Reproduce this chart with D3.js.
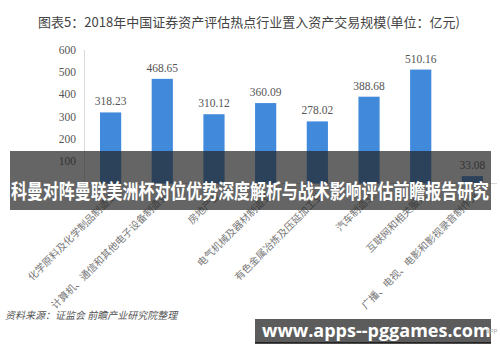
<!DOCTYPE html>
<html>
<head>
<meta charset="utf-8">
<script src="https://cdn.jsdelivr.net/npm/d3@7"></script>
<style>
  body { margin: 0; background: #fff; }
  svg { display: block; }
</style>
</head>
<body>
<div id="chart"></div>
<script>
const categories = [
  '化学原料及化学制品制造业',
  '计算机、通信和其他电子设备制造业',
  '房地产业',
  '电气机械及器材制造业',
  '有色金属冶炼及压延加工业',
  '汽车制造业',
  '互联网和相关服务',
  '广播、电视、电影和影视录音制作业'
]
const values = [318.23, 468.65, 310.12, 360.09, 278.02, 388.68, 510.16, 33.08]
const yTicks = [100, 200, 300, 400, 500, 600]

const title = '图表5：2018年中国证券资产评估热点行业置入资产交易规模(单位：亿元)'
const source = '资料来源：证监会 前瞻产业研究院整理'
const banner = '科曼对阵曼联美洲杯对位优势深度解析与战术影响评估前瞻报告研究'
const site = 'www.apps--pggames.com'

const width = 500
const height = 362
const serif = '"Liberation Serif", "DejaVu Serif", serif'
const cjk = '"Noto Sans CJK SC", "Noto Sans", sans-serif'

const svg = d3.select('#chart').append('svg').attr('width', width).attr('height', height)

const x = d3.scaleBand().domain(categories).range([84.5, 498.5]).paddingInner(0.59).paddingOuter(0.3)
const y = d3.scaleLinear().domain([0, 600]).range([183.5, 49.5])

// title
svg.append('text')
  .attr('x', 249).attr('y', 27)
  .attr('text-anchor', 'middle')
  .attr('font-family', cjk).attr('font-size', 13)
  .attr('fill', '#444')
  .text(title)

// y axis
const yAxis = svg.append('g')
  .attr('transform', 'translate(84,0)')
  .call(d3.axisLeft(y).tickValues(yTicks).tickSize(0).tickPadding(8))
yAxis.select('.domain').attr('stroke', '#d9d9d9')
yAxis.selectAll('text').attr('font-family', serif).attr('font-size', 11.5).attr('fill', '#555')

// baseline
svg.append('line')
  .attr('x1', 84).attr('x2', 497)
  .attr('y1', y(0)).attr('y2', y(0))
  .attr('stroke', '#d9d9d9')

// bars
svg.append('g')
  .selectAll('rect')
  .data(values)
  .join('rect')
  .attr('x', (d, i) => x(categories[i]))
  .attr('y', d => y(d))
  .attr('width', x.bandwidth())
  .attr('height', d => y(0) - y(d))
  .attr('fill', '#4189da')

// value labels
svg.append('g')
  .selectAll('text')
  .data(values)
  .join('text')
  .attr('x', (d, i) => x(categories[i]) + x.bandwidth() / 2)
  .attr('y', d => y(d) - 7)
  .attr('text-anchor', 'middle')
  .attr('font-family', serif).attr('font-size', 11.5)
  .attr('fill', '#555')
  .text(d => d.toFixed(2))

// category labels
svg.append('g')
  .selectAll('text')
  .data(categories)
  .join('text')
  .attr('transform', d => `translate(${x(d) + x.bandwidth() / 2 + 4},194) rotate(-45)`)
  .attr('text-anchor', 'end')
  .attr('dy', '0.35em')
  .attr('font-family', cjk).attr('font-size', 10)
  .attr('fill', '#777')
  .text(d => d)

// source note
svg.append('text')
  .attr('x', 5).attr('y', 319)
  .attr('font-family', cjk).attr('font-size', 10)
  .attr('font-style', 'italic')
  .attr('fill', '#555')
  .text(source)

// overlay banner
svg.append('rect')
  .attr('x', 10).attr('y', 151)
  .attr('width', 481).attr('height', 59)
  .attr('fill', 'rgba(35,35,35,0.7)')
svg.append('text')
  .attr('x', 11).attr('y', 199)
  .attr('textLength', 478).attr('lengthAdjust', 'spacingAndGlyphs')
  .attr('font-family', cjk).attr('font-size', 20).attr('font-weight', 'bold')
  .attr('fill', '#fff')
  .text(banner)

// site box
svg.append('rect')
  .attr('x', 255).attr('y', 319)
  .attr('width', 236).attr('height', 24)
  .attr('fill', '#5c5c5c')
svg.append('line')
  .attr('x1', 255).attr('x2', 491)
  .attr('y1', 343).attr('y2', 343)
  .attr('stroke', '#111').attr('stroke-width', 1.5)
svg.append('text')
  .attr('x', 262).attr('y', 337)
  .attr('font-family', '"Open Sans", "DejaVu Sans", sans-serif')
  .attr('font-size', 18).attr('font-weight', 'bold')
  .attr('fill', '#fff')
  .text(site)
svg.append('text')
  .attr('x', 486).attr('y', 334)
  .attr('font-family', cjk).attr('font-size', 6)
  .attr('fill', '#aaa')
  .text('APP')
</script>
</body>
</html>
